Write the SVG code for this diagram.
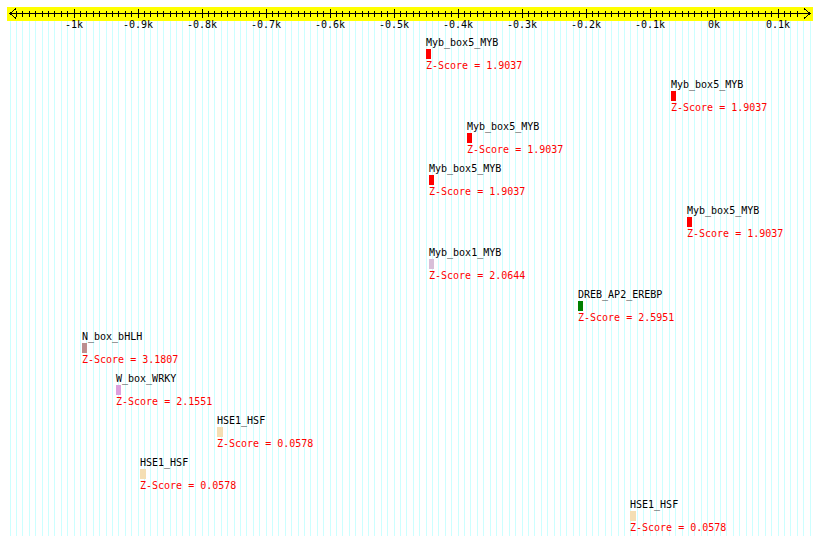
<svg xmlns="http://www.w3.org/2000/svg" xmlns:xlink="http://www.w3.org/1999/xlink" width="820" height="545" viewBox="0 0 820 545">
<style>
text{font-family:"DejaVu Sans Mono","Liberation Mono",monospace;font-size:10px}
.lbl{fill:#000}
.z{fill:#ff0000}
.tk{text-anchor:middle;fill:#000}
.grid{stroke:#ccffff;stroke-width:1;fill:none;shape-rendering:crispEdges}
.tick{stroke:#000;stroke-width:1;fill:none;shape-rendering:crispEdges}
</style>
<defs>
<path id="g10" d="M10 21V536M16.4 21V536M22.8 21V536M29.2 21V536M35.6 21V536M42 21V536M48.4 21V536M54.8 21V536M61.2 21V536M67.6 21V536"/>
<path id="t10" d="M16.4 11V17M22.8 11V17M29.2 11V17M35.6 11V17M42 11V17M48.4 11V17M54.8 11V17M61.2 11V17M67.6 11V17M74 9V18"/>
</defs>
<rect width="820" height="545" fill="#fff"/>
<g id="grid" class="grid">
<use xlink:href="#g10"/>
<use xlink:href="#g10" x="64"/>
<use xlink:href="#g10" x="128"/>
<use xlink:href="#g10" x="192"/>
<use xlink:href="#g10" x="256"/>
<use xlink:href="#g10" x="320"/>
<use xlink:href="#g10" x="384"/>
<use xlink:href="#g10" x="448"/>
<use xlink:href="#g10" x="512"/>
<use xlink:href="#g10" x="576"/>
<use xlink:href="#g10" x="640"/>
<use xlink:href="#g10" x="704"/>
<path d="M778 21V536M784.4 21V536M790.8 21V536M797.2 21V536M803.6 21V536M810 21V536"/>
</g>
<g id="axis">
<rect x="7" y="7" width="806" height="14" fill="#ffff00"/>
<g class="tick">
<path d="M10 13.5H810M16 8.5L10 13.5L16 18.5M804 8.5L810 13.5L804 18.5"/>
<use xlink:href="#t10"/>
<use xlink:href="#t10" x="64"/>
<use xlink:href="#t10" x="128"/>
<use xlink:href="#t10" x="192"/>
<use xlink:href="#t10" x="256"/>
<use xlink:href="#t10" x="320"/>
<use xlink:href="#t10" x="384"/>
<use xlink:href="#t10" x="448"/>
<use xlink:href="#t10" x="512"/>
<use xlink:href="#t10" x="576"/>
<use xlink:href="#t10" x="640"/>
<use xlink:href="#t10" x="704"/>
<path d="M784.4 11V17M790.8 11V17M797.2 11V17"/>
</g>
<text class="tk" x="74" y="28">-1k</text>
<text class="tk" x="138" y="28">-0.9k</text>
<text class="tk" x="202" y="28">-0.8k</text>
<text class="tk" x="266" y="28">-0.7k</text>
<text class="tk" x="330" y="28">-0.6k</text>
<text class="tk" x="394" y="28">-0.5k</text>
<text class="tk" x="458" y="28">-0.4k</text>
<text class="tk" x="522" y="28">-0.3k</text>
<text class="tk" x="586" y="28">-0.2k</text>
<text class="tk" x="650" y="28">-0.1k</text>
<text class="tk" x="714" y="28">0k</text>
<text class="tk" x="778" y="28">0.1k</text>
</g>
<g id="m1"><text class="lbl" x="426" y="46">Myb_box5_MYB</text><rect x="426" y="49" width="5" height="10" fill="#ff0000"/><text class="z" x="426" y="69">Z-Score = 1.9037</text></g>
<g id="m2"><text class="lbl" x="671" y="88">Myb_box5_MYB</text><rect x="671" y="91" width="5" height="10" fill="#ff0000"/><text class="z" x="671" y="111">Z-Score = 1.9037</text></g>
<g id="m3"><text class="lbl" x="467" y="130">Myb_box5_MYB</text><rect x="467" y="133" width="5" height="10" fill="#ff0000"/><text class="z" x="467" y="153">Z-Score = 1.9037</text></g>
<g id="m4"><text class="lbl" x="429" y="172">Myb_box5_MYB</text><rect x="429" y="175" width="5" height="10" fill="#ff0000"/><text class="z" x="429" y="195">Z-Score = 1.9037</text></g>
<g id="m5"><text class="lbl" x="687" y="214">Myb_box5_MYB</text><rect x="687" y="217" width="5" height="10" fill="#ff0000"/><text class="z" x="687" y="237">Z-Score = 1.9037</text></g>
<g id="m6"><text class="lbl" x="429" y="256">Myb_box1_MYB</text><rect x="429" y="259" width="5" height="10" fill="#d8bfd8"/><text class="z" x="429" y="279">Z-Score = 2.0644</text></g>
<g id="m7"><text class="lbl" x="578" y="298">DREB_AP2_EREBP</text><rect x="578" y="301" width="5" height="10" fill="#008000"/><text class="z" x="578" y="321">Z-Score = 2.5951</text></g>
<g id="m8"><text class="lbl" x="82" y="340">N_box_bHLH</text><rect x="82" y="343" width="5" height="10" fill="#bc8f8f"/><text class="z" x="82" y="363">Z-Score = 3.1807</text></g>
<g id="m9"><text class="lbl" x="116" y="382">W_box_WRKY</text><rect x="116" y="385" width="5" height="10" fill="#dda0dd"/><text class="z" x="116" y="405">Z-Score = 2.1551</text></g>
<g id="m10"><text class="lbl" x="217" y="424">HSE1_HSF</text><rect x="217" y="427" width="6" height="10" fill="#f5deb3"/><text class="z" x="217" y="447">Z-Score = 0.0578</text></g>
<g id="m11"><text class="lbl" x="140" y="466">HSE1_HSF</text><rect x="140" y="469" width="6" height="10" fill="#f5deb3"/><text class="z" x="140" y="489">Z-Score = 0.0578</text></g>
<g id="m12"><text class="lbl" x="630" y="508">HSE1_HSF</text><rect x="630" y="511" width="6" height="10" fill="#f5deb3"/><text class="z" x="630" y="531">Z-Score = 0.0578</text></g>
</svg>
